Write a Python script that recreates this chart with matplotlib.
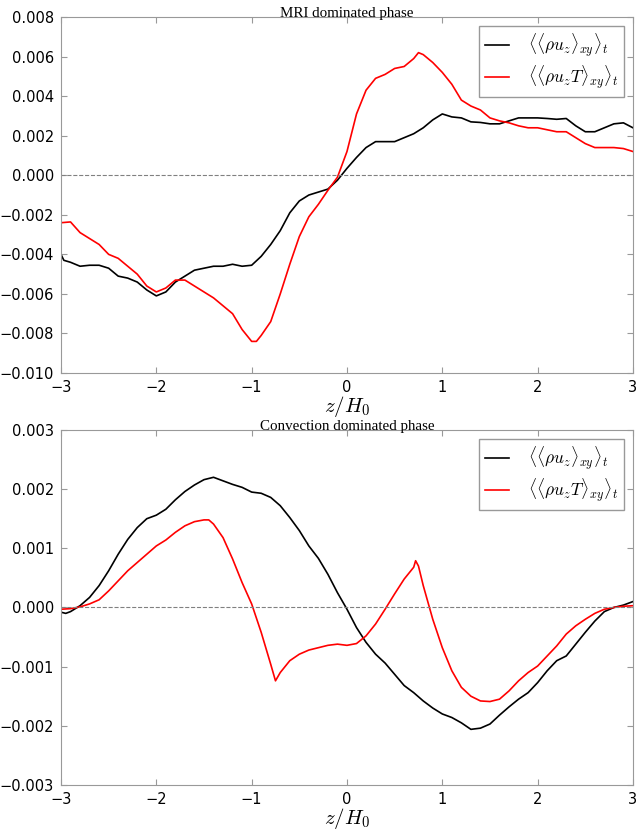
import matplotlib
matplotlib.use('Agg')
import matplotlib.pyplot as plt

# vertical flux profiles
z_mri = [-3.0, -2.97, -2.9, -2.8, -2.7, -2.6, -2.5, -2.4, -2.3, -2.2, -2.1, -2.0, -1.9, -1.8, -1.7,
         -1.6, -1.5, -1.4, -1.3, -1.2, -1.1, -1.0, -0.9, -0.8, -0.7, -0.6, -0.5, -0.4, -0.3, -0.2,
         -0.1, 0.0, 0.1, 0.2, 0.3, 0.4, 0.5, 0.6, 0.7, 0.8, 0.9, 1.0, 1.1, 1.2, 1.3, 1.4, 1.5, 1.6,
         1.7, 1.8, 1.9, 2.0, 2.1, 2.2, 2.3, 2.4, 2.5, 2.6, 2.7, 2.8, 2.9, 3.0]
rho_uz_mri = [-0.0040, -0.0043, -0.0044, -0.0046, -0.00455, -0.00455, -0.0047, -0.0051, -0.0052,
              -0.0054, -0.0058, -0.0061, -0.0059, -0.0054, -0.0051, -0.0048, -0.0047, -0.0046,
              -0.0046, -0.0045, -0.0046, -0.00455, -0.0041, -0.0035, -0.0028, -0.0019, -0.0013,
              -0.0010, -0.00085, -0.0007, -0.00025, 0.00035, 0.0009, 0.0014, 0.0017, 0.0017,
              0.0017, 0.0019, 0.0021, 0.0024, 0.0028, 0.0031, 0.00295, 0.0029, 0.0027, 0.00267,
              0.0026, 0.0026, 0.00275, 0.0029, 0.0029, 0.0029, 0.00287, 0.00283, 0.00287, 0.0025,
              0.0022, 0.0022, 0.0024, 0.0026, 0.00265, 0.0024]

zT_mri = [-3.0, -2.9, -2.8, -2.7, -2.6, -2.5, -2.4, -2.3, -2.2, -2.1, -2.0, -1.9, -1.8, -1.7, -1.6,
          -1.5, -1.4, -1.3, -1.2, -1.1, -1.0, -0.95, -0.9, -0.8, -0.7, -0.6, -0.5, -0.4, -0.3,
          -0.2, -0.1, 0.0, 0.1, 0.2, 0.3, 0.4, 0.5, 0.6, 0.7, 0.75, 0.8, 0.9, 1.0, 1.1, 1.2, 1.3,
          1.4, 1.5, 1.6, 1.7, 1.8, 1.9, 2.0, 2.1, 2.2, 2.3, 2.4, 2.5, 2.6, 2.7, 2.8, 2.9, 3.0]
rho_uzT_mri = [-0.0024, -0.00236, -0.0029, -0.0032, -0.0035, -0.0040, -0.0042, -0.0046, -0.0050,
               -0.0056, -0.0059, -0.0057, -0.0053, -0.0053, -0.0056, -0.0059, -0.0062, -0.0066,
               -0.0070, -0.0078, -0.0084, -0.0084, -0.0081, -0.0074, -0.0060, -0.0045, -0.0031,
               -0.0021, -0.00147, -0.00076, -0.0001, 0.0012, 0.0031, 0.0043, 0.0049, 0.0051,
               0.0054, 0.0055, 0.0059, 0.0062, 0.0061, 0.0057, 0.0052, 0.0046, 0.0038, 0.0035,
               0.0033, 0.0029, 0.00275, 0.00265, 0.0025, 0.0024, 0.0024, 0.0023, 0.0022, 0.0022,
               0.0019, 0.0016, 0.0014, 0.0014, 0.0014, 0.00135, 0.0012]

z_conv = [-3.0, -2.95, -2.9, -2.8, -2.7, -2.6, -2.5, -2.4, -2.3, -2.2, -2.1, -2.0, -1.9, -1.8, -1.7,
          -1.6, -1.5, -1.4, -1.3, -1.2, -1.1, -1.0, -0.9, -0.8, -0.7, -0.6, -0.5, -0.4, -0.3, -0.2,
          -0.1, 0.0, 0.1, 0.2, 0.3, 0.4, 0.5, 0.6, 0.7, 0.8, 0.9, 1.0, 1.1, 1.2, 1.3, 1.4, 1.5,
          1.6, 1.7, 1.8, 1.9, 2.0, 2.1, 2.2, 2.3, 2.4, 2.5, 2.6, 2.7, 2.8, 2.9, 3.0]
rho_uz_conv = [-0.00008, -0.0001, -0.00007, 0.00003, 0.00017, 0.00037, 0.00062, 0.0009, 0.00115,
               0.00135, 0.0015, 0.00156, 0.00166, 0.00182, 0.00196, 0.00207, 0.00216, 0.0022,
               0.00214, 0.00208, 0.00203, 0.00195, 0.00193, 0.00186, 0.00172, 0.00152, 0.0013,
               0.00104, 0.00083, 0.00056, 0.00025, -0.00003, -0.00034, -0.00059, -0.00079,
               -0.00094, -0.00113, -0.00132, -0.00144, -0.00158, -0.0017, -0.0018, -0.00186,
               -0.00195, -0.00206, -0.00204, -0.00197, -0.00182, -0.00168, -0.00155, -0.00144,
               -0.00127, -0.00107, -0.0009, -0.00082, -0.00062, -0.00042, -0.00023, -0.00007,
               0.0, 0.00004, 0.0001]

zT_conv = [-3.0, -2.9, -2.8, -2.7, -2.6, -2.5, -2.4, -2.3, -2.2, -2.1, -2.0, -1.9, -1.8, -1.7, -1.6,
           -1.5, -1.45, -1.4, -1.3, -1.2, -1.1, -1.0, -0.9, -0.8, -0.75, -0.7, -0.6, -0.5, -0.4,
           -0.3, -0.2, -0.1, 0.0, 0.1, 0.2, 0.3, 0.4, 0.5, 0.6, 0.7, 0.72, 0.75, 0.8, 0.9, 1.0,
           1.1, 1.2, 1.3, 1.4, 1.5, 1.6, 1.7, 1.8, 1.9, 2.0, 2.1, 2.2, 2.3, 2.4, 2.5, 2.6, 2.7,
           2.8, 2.9, 3.0]
rho_uzT_conv = [-0.00003, -0.00002, 0.00001, 0.00006, 0.00013, 0.00028, 0.00045, 0.00062, 0.00076,
                0.0009, 0.00104, 0.00114, 0.00127, 0.00138, 0.00145, 0.00148, 0.00148, 0.00141,
                0.00118, 0.00082, 0.00042, 0.00006, -0.00042, -0.00096, -0.00124, -0.0011,
                -0.0009, -0.00079, -0.00072, -0.00068, -0.00064, -0.00062, -0.00064, -0.00061,
                -0.00048, -0.00028, -0.00003, 0.00023, 0.00048, 0.00068, 0.00079, 0.0007,
                0.00037, -0.0002, -0.00068, -0.00107, -0.00135, -0.0015, -0.00158, -0.00159,
                -0.00155, -0.00141, -0.00124, -0.0011, -0.00099, -0.00082, -0.00065, -0.00045,
                -0.00031, -0.0002, -0.0001, -0.00003, 0.0, 0.00002, 0.00003]

yticks_mri = [-0.010, -0.008, -0.006, -0.004, -0.002, 0.0, 0.002, 0.004, 0.006, 0.008]
yticks_conv = [-0.003, -0.002, -0.001, 0.0, 0.001, 0.002, 0.003]
xticks = [-3, -2, -1, 0, 1, 2, 3]

titles = ['MRI dominated phase', 'Convection dominated phase']
labels = [r'$\langle\langle\rho u_z\rangle_{xy}\rangle_t$',
          r'$\langle\langle\rho u_z T\rangle_{xy}\rangle_t$']

plt.rcParams['mathtext.fontset'] = 'cm'

fig = plt.figure(figsize=(6.38, 8.31), dpi=100)
ax1 = fig.add_axes([0.0956, 0.5511, 0.8965, 0.4284])
ax2 = fig.add_axes([0.0956, 0.0554, 0.8965, 0.4272])

panels = [(ax1, z_mri, rho_uz_mri, zT_mri, rho_uzT_mri, yticks_mri),
          (ax2, z_conv, rho_uz_conv, zT_conv, rho_uzT_conv, yticks_conv)]

# tick labels with a real minus sign, like the original
fmt = matplotlib.ticker.FuncFormatter(lambda v, p: ('%.3f' % v).replace('-', '\u2212'))
xfmt = matplotlib.ticker.FuncFormatter(lambda v, p: ('%d' % v).replace('-', '\u2212'))

for i, (ax, za, ya, zb, yb, yt) in enumerate(panels):
    ax.plot(za, ya, color='black', lw=1.2, label=labels[0])
    ax.plot(zb, yb, color='red', lw=1.2, label=labels[1])
    ax.axhline(0, color='gray', ls='--', lw=0.8)
    ax.set_xlim(-3, 3)
    ax.set_ylim(yt[0], yt[-1])
    ax.set_yticks(yt)
    ax.yaxis.set_major_formatter(fmt)
    ax.set_xticks(xticks)
    ax.xaxis.set_major_formatter(xfmt)
    for s in ax.spines.values():
        s.set_color('#999999')
    ax.tick_params(direction='in', top=True, right=True, color='#999999',
                   labelsize=10.5, length=4, pad=5)
    ax.set_title(titles[i], family='Liberation Serif', fontsize=10.8, pad=0)
    ax.set_xlabel(r'$z/H_0$', fontsize=15, labelpad=-0.5)
    leg = ax.legend(loc='upper right', fontsize=12.5, handlelength=1.4, handletextpad=1.1,
                    borderpad=0.35, labelspacing=0.25, fancybox=False, framealpha=1)
    leg.get_frame().set_edgecolor('#999999')

fig.savefig('out.png', dpi=100)
